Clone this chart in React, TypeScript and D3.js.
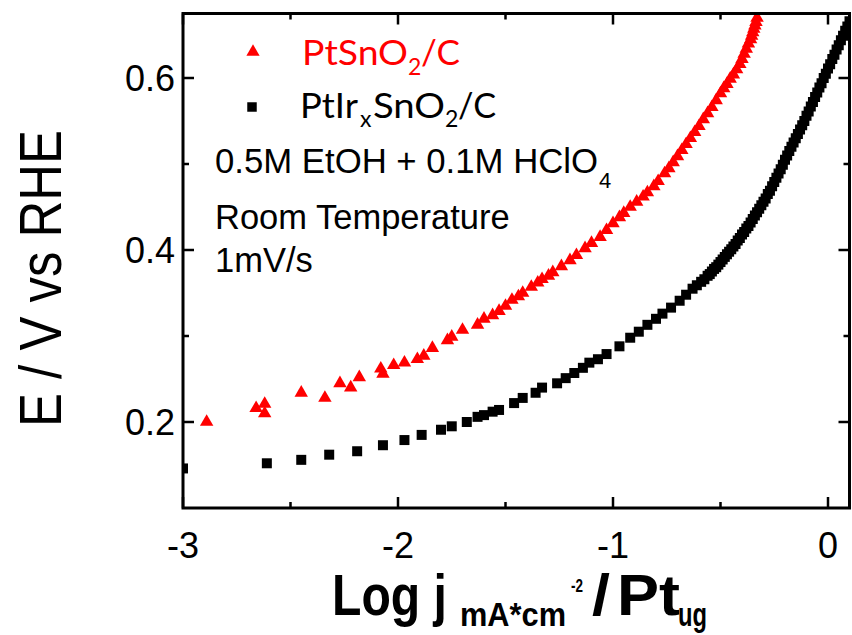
import React from "react";
import * as d3 from "d3";

// ---- data ----
const redX = [
  -2.89, -2.66, -2.62, -2.62, -2.45, -2.34, -2.27, -2.22, -2.18, -2.08, -2.07, -2.02, -1.97, -1.91, -1.88,
  -1.84, -1.77, -1.75, -1.70, -1.63, -1.60, -1.56, -1.53, -1.50, -1.47, -1.44, -1.42, -1.38, -1.35, -1.33,
  -1.30, -1.28, -1.24, -1.20, -1.17, -1.13, -1.10, -1.06, -1.03, -1.00, -0.97, -0.95, -0.92, -0.89, -0.86,
  -0.84, -0.81, -0.79, -0.76, -0.74, -0.72, -0.70, -0.68, -0.66, -0.64, -0.62, -0.60, -0.58, -0.56, -0.54,
  -0.52, -0.50, -0.485, -0.47, -0.455, -0.44, -0.425, -0.41, -0.40, -0.39, -0.38, -0.37, -0.36, -0.355,
  -0.35, -0.345, -0.34, -0.335, -0.33,
];
const redY = [
  0.200, 0.216, 0.221, 0.210, 0.234, 0.228, 0.245, 0.240, 0.252, 0.262, 0.256, 0.266, 0.269, 0.273, 0.277,
  0.286, 0.295, 0.299, 0.307, 0.313, 0.320, 0.324, 0.329, 0.335, 0.342, 0.346, 0.350, 0.357, 0.362, 0.366,
  0.370, 0.374, 0.381, 0.388, 0.394, 0.402, 0.408, 0.415, 0.423, 0.431, 0.438, 0.443, 0.450, 0.456, 0.462,
  0.467, 0.474, 0.480, 0.489, 0.495, 0.502, 0.509, 0.516, 0.523, 0.530, 0.537, 0.544, 0.552, 0.559, 0.566,
  0.574, 0.582, 0.588, 0.593, 0.599, 0.604, 0.610, 0.616, 0.622, 0.628, 0.634, 0.640, 0.645, 0.649,
  0.653, 0.657, 0.661, 0.665, 0.670,
];

const blackX = [
  -3.00, -2.61, -2.45, -2.32, -2.19, -2.07, -1.97, -1.89, -1.80, -1.75, -1.68, -1.63, -1.60, -1.56, -1.53,
  -1.46, -1.42, -1.36, -1.33, -1.26, -1.22, -1.18, -1.14, -1.11, -1.07, -1.03, -0.97, -0.92, -0.88, -0.84,
  -0.80, -0.77, -0.73, -0.69, -0.66, -0.63, -0.61, -0.59, -0.575, -0.56, -0.55, -0.54, -0.53, -0.52, -0.51,
  -0.50, -0.49, -0.48, -0.47, -0.46, -0.45, -0.44, -0.43, -0.42, -0.41, -0.40, -0.39, -0.38, -0.37, -0.36,
  -0.35, -0.34, -0.33, -0.32, -0.31, -0.30, -0.29, -0.28, -0.27, -0.26, -0.25, -0.24, -0.23, -0.22, -0.21,
  -0.20, -0.19, -0.18, -0.17, -0.16, -0.15, -0.14, -0.13, -0.12, -0.11, -0.10, -0.09, -0.08, -0.07, -0.06,
  -0.05, -0.04, -0.03, -0.02, -0.01, 0.00, 0.01, 0.02, 0.03, 0.04, 0.05, 0.06, 0.07, 0.08, 0.09, 0.10,
];
const blackY = [
  0.146, 0.152, 0.156, 0.162, 0.166, 0.173, 0.179, 0.185, 0.191, 0.195, 0.200, 0.206, 0.208, 0.212, 0.214,
  0.222, 0.228, 0.234, 0.240, 0.245, 0.251, 0.257, 0.263, 0.269, 0.273, 0.279, 0.288, 0.298, 0.305, 0.313,
  0.320, 0.326, 0.333, 0.341, 0.348, 0.355, 0.359, 0.363, 0.366, 0.370, 0.372, 0.375, 0.378, 0.380, 0.383,
  0.386, 0.389, 0.392, 0.395, 0.398, 0.401, 0.404, 0.407, 0.411, 0.414, 0.418, 0.421, 0.425, 0.428, 0.432,
  0.436, 0.440, 0.444, 0.448, 0.452, 0.456, 0.460, 0.465, 0.469, 0.474, 0.479, 0.484, 0.489, 0.494, 0.499,
  0.505, 0.510, 0.515, 0.520, 0.525, 0.530, 0.535, 0.540, 0.545, 0.550, 0.556, 0.561, 0.567, 0.572, 0.578,
  0.583, 0.589, 0.594, 0.600, 0.605, 0.611, 0.616, 0.622, 0.627, 0.633, 0.638, 0.644, 0.649, 0.655, 0.660,
  0.666,
];

const xMajorTicks = [-3, -2, -1, 0];
const xMinorTicks = [-2.5, -1.5, -0.5];
const yMajorTicks = [0.2, 0.4, 0.6];
const yMinorTicks = [0.3, 0.5];
const xTickLabels = ["-3", "-2", "-1", "0"];
const yTickLabels = ["0.2", "0.4", "0.6"];

const W = 852;
const H = 635;
const left = 183;
const right = 849.5;
const top = 13.5;
const bottom = 508;

const ARIAL = "'Liberation Sans', Arial, sans-serif";
const CALIBRI = "Lato, 'Open Sans', sans-serif";

export default function App() {
  const x = d3.scaleLinear().domain([-3, 0.1]).range([left, right]);
  const y = d3.scaleLinear().domain([0.1, 0.675]).range([bottom, top]);

  const tri = d3.symbol().type(d3.symbolTriangle).size(78)() as string;
  const sq = d3.symbol().type(d3.symbolSquare).size(100)() as string;
  const triLeg = d3.symbol().type(d3.symbolTriangle).size(76)() as string;
  const sqLeg = d3.symbol().type(d3.symbolSquare).size(90)() as string;

  const red = redX.map((v, i) => ({ x: v, y: redY[i] }));
  const black = blackX.map((v, i) => ({ x: v, y: blackY[i] }));

  const major = 11;
  const minor = 6;

  return (
    <svg
      width={W}
      height={H}
      style={{ position: "absolute", left: 0, top: 0, background: "#fff" }}
    >
      <defs>
        <clipPath id="plot">
          <rect x={left} y={top} width={right - left} height={bottom - top} />
        </clipPath>
      </defs>
      <rect x={0} y={0} width={W} height={H} fill="#fff" />

      {/* data */}
      <g clipPath="url(#plot)">
        {black.map((d, i) => (
          <path key={"b" + i} d={sq} transform={`translate(${x(d.x)},${y(d.y)})`} fill="#000" />
        ))}
        {red.map((d, i) => (
          <path key={"r" + i} d={tri} transform={`translate(${x(d.x)},${y(d.y)})`} fill="#ff0000" />
        ))}
      </g>

      {/* frame */}
      <rect
        x={left}
        y={top}
        width={right - left}
        height={bottom - top}
        fill="none"
        stroke="#000"
        strokeWidth={3}
      />
      {/* ticks */}
      <g stroke="#000" strokeWidth={2.5}>
        {xMajorTicks.map((t) => (
          <g key={"xm" + t}>
            <line x1={x(t)} x2={x(t)} y1={bottom} y2={bottom - major} />
            <line x1={x(t)} x2={x(t)} y1={top} y2={top + major} />
          </g>
        ))}
        {xMinorTicks.map((t) => (
          <g key={"xn" + t}>
            <line x1={x(t)} x2={x(t)} y1={bottom} y2={bottom - minor} />
            <line x1={x(t)} x2={x(t)} y1={top} y2={top + minor} />
          </g>
        ))}
        {yMajorTicks.map((t) => (
          <g key={"ym" + t}>
            <line x1={left} x2={left + major} y1={y(t)} y2={y(t)} />
            <line x1={right} x2={right - major} y1={y(t)} y2={y(t)} />
          </g>
        ))}
        {yMinorTicks.map((t) => (
          <g key={"yn" + t}>
            <line x1={left} x2={left + minor} y1={y(t)} y2={y(t)} />
            <line x1={right} x2={right - minor} y1={y(t)} y2={y(t)} />
          </g>
        ))}
      </g>

      {/* tick labels */}
      <g fontFamily={ARIAL} fontSize={36} fill="#000">
        {xMajorTicks.map((t, i) => (
          <text key={"xl" + t} x={x(t)} y={558} textAnchor="middle">
            {xTickLabels[i]}
          </text>
        ))}
        {yMajorTicks.map((t, i) => (
          <text key={"yl" + t} x={175} y={y(t) + 12.5} textAnchor="end">
            {yTickLabels[i]}
          </text>
        ))}
      </g>

      {/* y title */}
      <text
        transform="translate(61,427) rotate(-90)"
        fontFamily={ARIAL}
        fontSize={60}
        textLength={297}
        lengthAdjust="spacingAndGlyphs"
        fill="#000"
      >
        E / V vs RHE
      </text>

      {/* x title */}
      <g fontFamily={ARIAL} fontWeight="bold" fill="#000">
        <text x={332} y={615} fontSize={58} textLength={115} lengthAdjust="spacingAndGlyphs">Log j</text>
        <text x={460} y={626} fontSize={34} textLength={106} lengthAdjust="spacingAndGlyphs">mA*cm</text>
        <text x={571} y={592} fontSize={19} textLength={12} lengthAdjust="spacingAndGlyphs">-2</text>
        <text x={592} y={615} fontSize={58} textLength={18} lengthAdjust="spacingAndGlyphs">/</text>
        <text x={617} y={615} fontSize={58} textLength={63} lengthAdjust="spacingAndGlyphs">Pt</text>
        <text x={678} y={626} fontSize={34} textLength={29} lengthAdjust="spacingAndGlyphs">ug</text>
      </g>

      {/* legend */}
      <path d={triLeg} transform="translate(253,52)" fill="#ff0000" />
      <g fontFamily={CALIBRI} fill="#ff0000">
        <text x={302} y={65} fontSize={35} textLength={106} lengthAdjust="spacingAndGlyphs">PtSnO</text>
        <text x={408} y={75} fontSize={23}>2</text>
        <text x={421} y={65} fontSize={35} textLength={39} lengthAdjust="spacingAndGlyphs">/C</text>
      </g>
      <path d={sqLeg} transform="translate(252,107)" fill="#000" />
      <g fontFamily={CALIBRI} fill="#000">
        <text x={300} y={118} fontSize={35} textLength={58} lengthAdjust="spacingAndGlyphs">PtIr</text>
        <text x={360} y={127} fontSize={23}>x</text>
        <text x={373} y={118} fontSize={35} textLength={72} lengthAdjust="spacingAndGlyphs">SnO</text>
        <text x={445} y={127} fontSize={23}>2</text>
        <text x={458} y={118} fontSize={35} textLength={38} lengthAdjust="spacingAndGlyphs">/C</text>
      </g>

      {/* annotation */}
      <g fontFamily={ARIAL} fill="#000" fontSize={34.5}>
        <text x={215} y={173} textLength={383} lengthAdjust="spacingAndGlyphs">0.5M EtOH + 0.1M HClO</text>
        <text x={599} y={188} fontSize={22}>4</text>
        <text x={215} y={229}>Room Temperature</text>
        <text x={215} y={272}>1mV/s</text>
      </g>
    </svg>
  );
}
